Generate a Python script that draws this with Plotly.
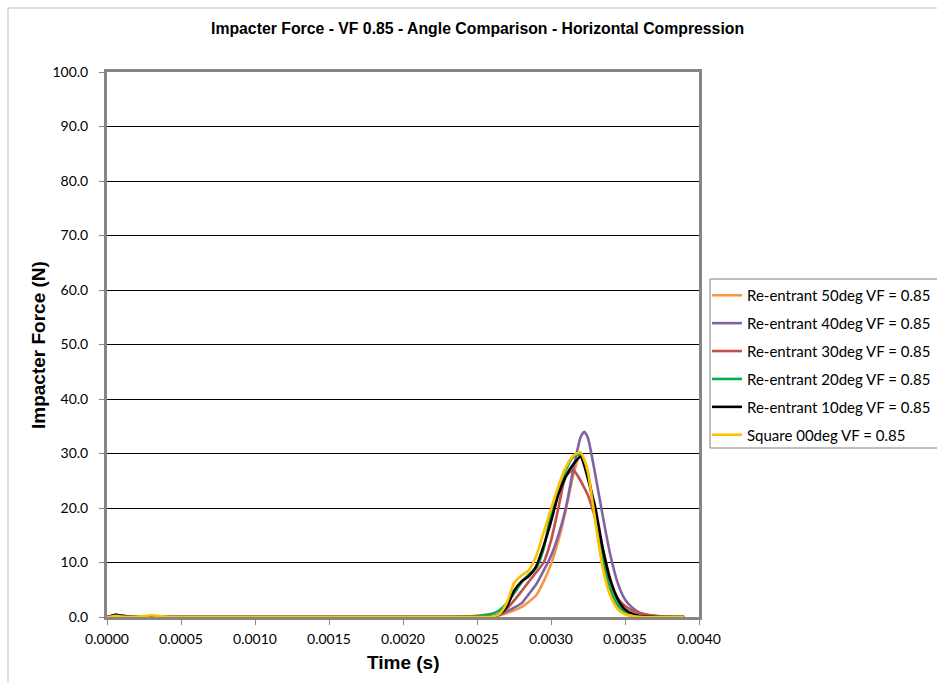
import plotly.graph_objects as go

# ---------------- data ----------------
time_s = [0.0, 0.00003, 0.00006, 0.0001, 0.0002, 0.0003, 0.0004, 0.0005, 0.001, 0.0015,
          0.002, 0.0024, 0.0025, 0.0026, 0.00265, 0.0027, 0.00275, 0.0028, 0.00285, 0.0029,
          0.00295, 0.0030, 0.00305, 0.0031, 0.00315, 0.0032, 0.003225, 0.00325, 0.0033, 0.00335,
          0.0034, 0.00345, 0.0035, 0.00355, 0.0036, 0.0037, 0.0038, 0.0039]

series_names = [
    "Re-entrant 50deg VF = 0.85",
    "Re-entrant 40deg VF = 0.85",
    "Re-entrant 30deg VF = 0.85",
    "Re-entrant 20deg VF = 0.85",
    "Re-entrant 10deg VF = 0.85",
    "Square 00deg VF = 0.85",
]

force_50deg = [0, 0.1, 0.2, 0.1, 0, 0.1, 0, 0, 0, 0,
               0, 0, 0, 0.05, 0.3, 0.7, 1.2, 1.8, 2.8, 4.0,
               6.5, 9.7, 14.0, 19.6, 26.0, 30.0, 28.8, 26.5, 17.8, 9.2,
               4.2, 1.7, 0.6, 0.2, 0.1, 0, 0, 0]
force_40deg = [0, 0.1, 0.2, 0.1, 0, 0.1, 0, 0, 0, 0,
               0, 0, 0.05, 0.1, 0.4, 1.0, 1.7, 2.5, 4.2, 6.0,
               8.5, 11.2, 15.0, 20.0, 27.0, 33.0, 34.0, 32.8, 26.0, 18.5,
               11.5, 6.3, 3.2, 1.7, 0.8, 0.2, 0.05, 0]
force_30deg = [0, 0.2, 0.4, 0.2, 0, 0.1, 0, 0, 0, 0,
               0, 0, 0.05, 0.1, 0.5, 1.5, 3.0, 4.7, 6.5, 8.2,
               10.0, 14.0, 20.0, 25.8, 27.0, 25.0, 23.7, 22.3, 18.0, 12.5,
               7.0, 3.5, 2.0, 1.2, 0.7, 0.2, 0.05, 0]
force_20deg = [0, 0.2, 0.4, 0.2, 0, 0.1, 0, 0, 0, 0,
               0, 0.05, 0.2, 0.6, 1.2, 2.5, 4.3, 6.3, 7.8, 9.0,
               12.5, 19.0, 23.5, 27.0, 29.4, 29.8, 28.3, 26.0, 19.0, 10.8,
               5.2, 2.3, 0.9, 0.4, 0.15, 0.05, 0, 0]
force_10deg = [0, 0.2, 0.4, 0.2, 0, 0.1, 0, 0, 0, 0,
               0, 0, 0.05, 0.1, 0.5, 1.8, 4.8, 6.5, 7.5, 9.3,
               13.0, 17.5, 22.5, 25.8, 28.0, 29.4, 27.8, 25.3, 20.0, 12.5,
               6.8, 3.3, 1.4, 0.6, 0.2, 0.05, 0, 0]
force_00deg = [0, 0.1, 0.2, 0.1, 0.05, 0.3, 0.05, 0, 0, 0,
               0, 0, 0.05, 0.1, 0.5, 2.5, 6.2, 7.6, 8.6, 11.2,
               15.5, 19.8, 24.0, 27.5, 29.6, 30.2, 28.8, 26.5, 17.5, 9.0,
               4.0, 1.5, 0.5, 0.2, 0.05, 0, 0, 0]

series_values = [force_50deg, force_40deg, force_30deg, force_20deg, force_10deg, force_00deg]
series_colors = ["#F79646", "#8064A2", "#C0504D", "#00B050", "#000000", "#FFC000"]

x_ticks = [0.0, 0.0005, 0.0010, 0.0015, 0.0020, 0.0025, 0.0030, 0.0035, 0.0040]
x_tick_labels = ["0.0000", "0.0005", "0.0010", "0.0015", "0.0020", "0.0025", "0.0030", "0.0035", "0.0040"]
y_ticks = [0, 10, 20, 30, 40, 50, 60, 70, 80, 90, 100]
y_tick_labels = ["0.0", "10.0", "20.0", "30.0", "40.0", "50.0", "60.0", "70.0", "80.0", "90.0", "100.0"]

title_text = "Impacter Force - VF 0.85 - Angle Comparison - Horizontal Compression"
x_title = "Time (s)"
y_title = "Impacter Force (N)"

# ---------------- figure ----------------
W, H = 937, 683
L, R, T, B = 107, 238, 72, 66
pw, ph = W - L - R, H - T - B

def px_x(px):
    return (px - L) / pw

def px_y(py):
    return (H - B - py) / ph

fig = go.Figure()
for name, vals, col in zip(series_names, series_values, series_colors):
    fig.add_trace(go.Scatter(
        x=time_s, y=vals, name=name, mode="lines",
        line=dict(color=col, width=2.6, shape="spline", smoothing=0.6),
        legendgroup=name,
    ))

axis_gray = "#868686"
tick_font = dict(family="Lato, Calibri, sans-serif", size=14, color="#000000")

fig.update_layout(
    width=W, height=H,
    margin=dict(l=L, r=R, t=T, b=B, autoexpand=False),
    paper_bgcolor="white", plot_bgcolor="white",
    showlegend=True,
    legend=dict(
        x=px_x(707), y=px_y(279), xanchor="left", yanchor="top",
        borderwidth=0, bgcolor="rgba(255,255,255,0)",
        font=dict(family="Lato, Calibri, sans-serif", size=15, color="#000000"),
        tracegroupgap=5.4, itemwidth=30,
    ),
    xaxis=dict(
        range=[0, 0.004], tickvals=x_ticks, ticktext=x_tick_labels,
        showgrid=False, zeroline=False,
        showline=True, linecolor=axis_gray, linewidth=3, mirror=True,
        ticks="outside", ticklen=5, tickcolor=axis_gray, tickwidth=1,
        tickfont=tick_font, ticklabelstandoff=2,
    ),
    yaxis=dict(
        range=[0, 100], tickvals=y_ticks, ticktext=y_tick_labels,
        showgrid=True, gridcolor="#000000", gridwidth=1, zeroline=False,
        showline=True, linecolor=axis_gray, linewidth=3, mirror=True,
        ticks="outside", ticklen=5, tickcolor=axis_gray, tickwidth=1,
        tickfont=tick_font, ticklabelstandoff=8,
    ),
    annotations=[
        dict(text="<b>" + title_text + "</b>", xref="paper", yref="paper",
             x=px_x(477), y=px_y(29), xanchor="center", yanchor="middle",
             showarrow=False, font=dict(family="Liberation Sans, Arial", size=15.8, color="#000000")),
        dict(text="<b>" + x_title + "</b>", xref="paper", yref="paper",
             x=px_x(403), y=px_y(662), xanchor="center", yanchor="middle",
             showarrow=False, font=dict(family="Liberation Sans, Arial", size=19, color="#000000")),
        dict(text="<b>" + y_title + "</b>", xref="paper", yref="paper",
             x=px_x(38), y=px_y(345), xanchor="center", yanchor="middle",
             textangle=-90, showarrow=False,
             font=dict(family="Liberation Sans, Arial", size=19, color="#000000")),
    ],
    shapes=[
        dict(type="rect", xref="paper", yref="paper", layer="below",
             x0=px_x(8), x1=px_x(960), y0=px_y(700), y1=px_y(8),
             line=dict(color="#BFBFBF", width=1), fillcolor="rgba(0,0,0,0)"),
        dict(type="rect", xref="paper", yref="paper", layer="below",
             x0=px_x(710), x1=px_x(960), y0=px_y(448), y1=px_y(279),
             line=dict(color="#808080", width=1), fillcolor="white"),
    ],
)

fig.write_html("out.html")
